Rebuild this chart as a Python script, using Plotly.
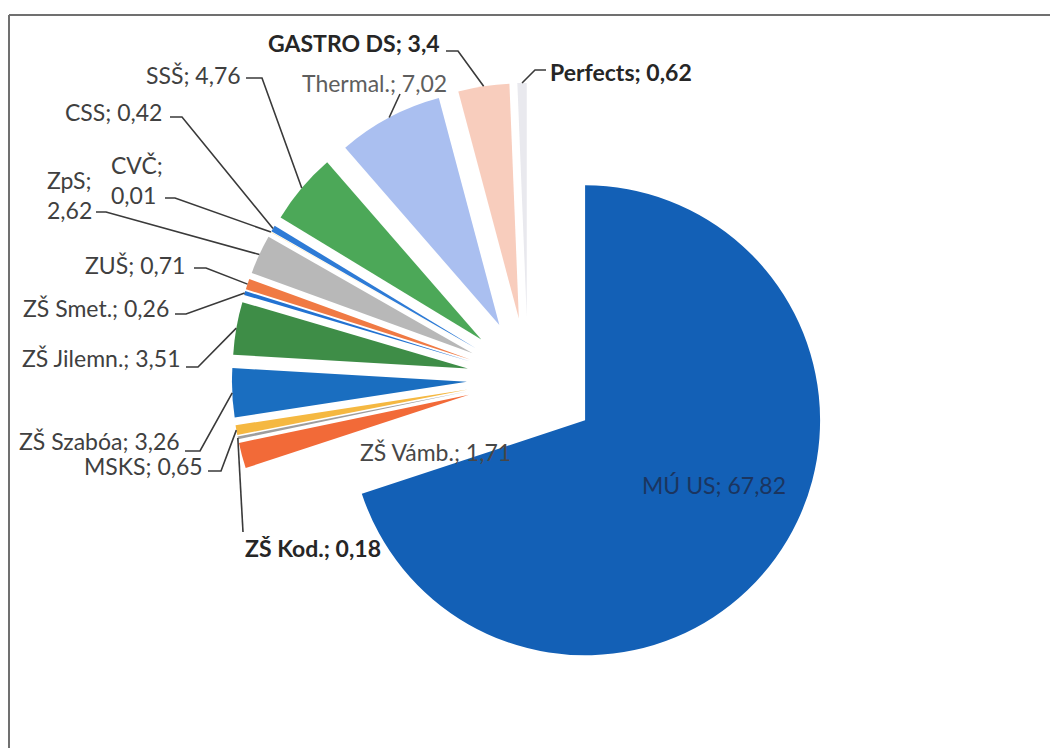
import math
import plotly.graph_objects as go

# ---- data ----
labels = ["MÚ US", "ZŠ Vámb.", "ZŠ Kod.", "MSKS", "ZŠ Szabóa", "ZŠ Jilemn.",
          "ZŠ Smet.", "ZUŠ", "ZpS", "CVČ", "CSS", "SSŠ", "Thermal.",
          "GASTRO DS", "Perfects"]
values = [67.82, 1.71, 0.18, 0.65, 3.26, 3.51, 0.26, 0.71, 2.62, 0.01, 0.42,
          4.76, 7.02, 3.4, 0.62]

# ---- styles ----
colors = ["#1360B6", "#F26A38", "#9E9E9E", "#F5B841", "#1A6EC0", "#3E8D47",
          "#2272D2", "#F07A44", "#B8B8B8", "#F7C23A", "#2E7BD6", "#4CA858",
          "#AABFF0", "#F8CDBD", "#E9E9EE"]
pulls = [0.30] + [0.26] * (len(values) - 1)

W, H = 1050, 748
CX, CY, R = 528, 379, 235          # pie centre / radius in px
half = R * (1 + max(pulls))
FS = 23


def px(x):
    return x / W


def py(y):
    return 1 - y / H


fig = go.Figure(go.Pie(
    labels=labels, values=values, sort=False, direction="clockwise",
    rotation=0, pull=pulls, textinfo="none", hoverinfo="skip",
    marker=dict(colors=colors, line=dict(width=0)),
    domain=dict(x=[px(CX - half), px(CX + half)],
                y=[py(CY + half), py(CY - half)]),
    showlegend=False,
))

total = sum(values)


def anchor(i):
    """outer-edge midpoint of (pulled) slice i, in px"""
    before = sum(values[:i])
    th = math.radians(360 * (before + values[i] / 2) / total)
    rr = R * (1 + pulls[i])
    return CX + rr * math.sin(th), CY - rr * math.cos(th)


def fmt(v):
    return str(v).replace(".", ",")


# label layout: (text x, text y, xanchor, bold, colour, leader points before anchor, text template)
layout_info = {
    "MÚ US": (640, 485, "left", False, "#1B3560", None, None),
    "ZŠ Vámb.": (358, 452, "left", False, "#474747", None, None),
    "ZŠ Kod.": (243, 548, "left", True, "#262626", [(243, 532)], None),
    "MSKS": (205, 466, "right", False, "#404040", [(208, 471), (221, 471)], None),
    "ZŠ Szabóa": (182, 441, "right", False, "#404040", [(185, 451), (200, 451)], None),
    "ZŠ Jilemn.": (182, 358, "right", False, "#404040", [(186, 367), (198, 367)], None),
    "ZŠ Smet.": (171, 308, "right", False, "#404040", [(175, 314), (186, 314)], None),
    "ZUŠ": (187, 265, "right", False, "#404040", [(194, 268), (206, 268)], None),
    "ZpS": (45, 195, "left", False, "#404040", [(96, 212), (106, 212)], "ZpS;<br>{v}"),
    "CVČ": (109, 180, "left", False, "#404040", [(165, 198), (175, 198)], "CVČ;<br>{v}"),
    "CSS": (164, 112, "right", False, "#404040", [(170, 117), (182, 117)], None),
    "SSŠ": (243, 75, "right", False, "#404040", [(246, 78), (262, 78)], None),
    "Thermal.": (300, 83, "left", False, "#5E5E5E", [(400, 94)], None),
    "GASTRO DS": (442, 43, "right", True, "#262626", [(446, 51), (458, 51)], None),
    "Perfects": (548, 72, "left", True, "#262626", [(546, 70), (535, 70)], None),
}

annotations = []
shapes = []
for i, lab in enumerate(labels):
    tx, ty, xa, bold, col, pts, tmpl = layout_info[lab]
    text = tmpl.format(v=fmt(values[i])) if tmpl else f"{lab}; {fmt(values[i])}"
    if bold:
        text = "<b>" + text.replace("<br>", "</b><br><b>") + "</b>"
    annotations.append(dict(
        x=px(tx), y=py(ty), xref="paper", yref="paper", xanchor=xa,
        yanchor="middle", text=text, showarrow=False, align="left",
        font=dict(family="Lato, Carlito, sans-serif", size=FS, color=col)))
    if pts:
        ax, ay = anchor(i)
        allp = pts + [(ax, ay)]
        path = "M " + " L ".join(f"{px(x):.5f},{py(y):.5f}" for x, y in allp)
        shapes.append(dict(type="path", path=path, xref="paper", yref="paper",
                           line=dict(color="#3a3a3a", width=1.6)))

# outer frame (only top and left edges are inside the picture)
frame = dict(color="#707070", width=2)
shapes.append(dict(type="line", xref="paper", yref="paper", x0=px(9), x1=1.0,
                   y0=py(15), y1=py(15), line=frame))
shapes.append(dict(type="line", xref="paper", yref="paper", x0=px(9), x1=px(9),
                   y0=py(15), y1=0.0, line=frame))

fig.update_layout(
    width=W, height=H, margin=dict(l=0, r=0, t=0, b=0),
    paper_bgcolor="white", plot_bgcolor="white",
    annotations=annotations, shapes=shapes,
)
fig.write_html("out.html", config={"displayModeBar": False},
               post_script="document.body.style.margin='0';document.body.style.overflow='hidden';")
